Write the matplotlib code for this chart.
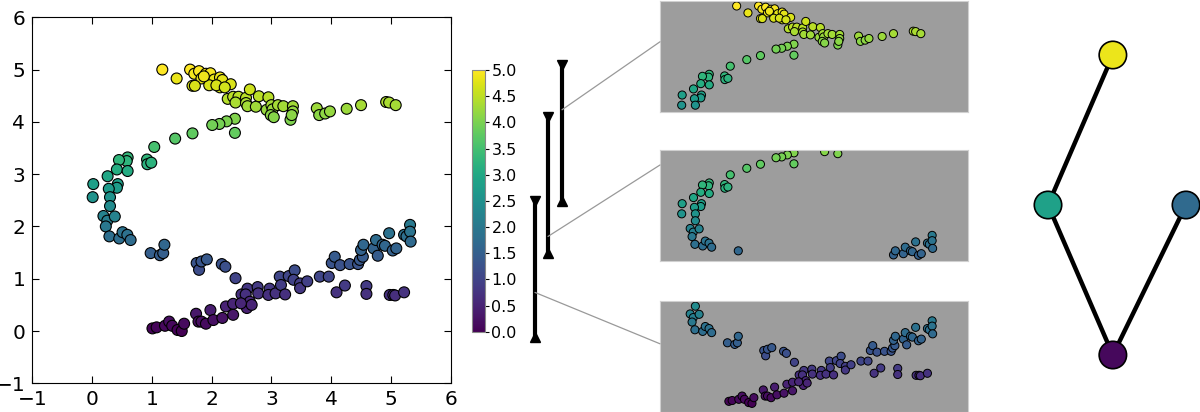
import matplotlib
matplotlib.use('Agg')
import matplotlib.pyplot as plt
from matplotlib.patches import ConnectionPatch
import numpy as np

# points (x, y); colour is the y value
pts_x = [1.175, 1.415, 1.64, 1.71, 1.79, 1.83, 1.68, 1.72, 1.905, 1.98, 2.045, 1.96, 2.14, 2.14, 2.18, 2.32, 1.87, 2.08, 2.22,
	2.27, 2.36, 2.45, 2.40, 2.575, 2.575, 2.64, 2.60, 2.74, 2.79, 2.95, 2.92, 3.0, 3.02, 2.99, 3.04, 3.11, 3.2, 3.36, 3.36, 3.32, 3.34,
	3.76, 3.80, 3.90, 3.98, 4.26, 4.50, 4.92, 4.97, 5.08,
	2.39, 2.25, 2.13, 2.01, 2.39, 1.68, 1.39, 1.04, 0.92, 0.925, 0.99, 0.595, 0.58, 0.45, 0.415, 0.595, 0.26, 0.43, 0.415, 0.02, 0.01,
	0.28, 0.30, 0.30,
	0.19, 0.255, 0.23, 0.38, 0.29, 0.455, 0.51, 0.59, 0.645, 0.98, 1.135, 1.19, 1.21,
	1.75, 1.79, 1.83, 1.92, 2.17, 2.23, 2.40, 2.50, 2.60, 2.57, 2.64, 2.59, 2.67, 2.77, 2.78, 2.97, 2.95, 3.07, 3.14, 3.16, 3.23,
	3.29, 3.39, 3.37, 3.48, 3.48, 3.60, 3.81, 3.96, 4.01, 4.06, 4.09, 4.15, 4.23, 4.31, 4.45, 4.48, 4.53, 4.50, 4.54, 4.59, 4.59,
	4.71, 4.75, 4.78, 4.86, 4.90, 4.97, 5.03, 5.09, 4.98, 5.04, 5.07, 5.22, 5.22, 5.26, 5.32, 5.32, 5.33,
	1.01, 1.08, 1.22, 1.29, 1.34, 1.43, 1.50, 1.54, 1.74, 1.78, 1.83, 1.905, 1.98, 2.03, 2.18, 2.24, 2.36, 2.36, 2.49]
pts_y = [5.0, 4.83, 5.0, 4.92, 4.97, 4.83, 4.69, 4.69, 4.92, 4.93, 4.81, 4.70, 4.85, 4.66, 4.80, 4.72, 4.87, 4.70, 4.66,
	4.44, 4.48, 4.48, 4.37, 4.46, 4.36, 4.62, 4.30, 4.29, 4.49, 4.47, 4.23, 4.32, 4.24, 4.13, 4.09, 4.32, 4.30, 4.30, 4.20, 4.04, 4.13,
	4.26, 4.13, 4.16, 4.20, 4.25, 4.32, 4.38, 4.37, 4.32,
	4.06, 4.01, 3.96, 3.94, 3.79, 3.78, 3.68, 3.52, 3.28, 3.19, 3.22, 3.32, 3.25, 3.27, 3.09, 3.06, 2.96, 2.81, 2.74, 2.81, 2.56,
	2.72, 2.56, 2.39,
	2.20, 2.11, 2.0, 2.19, 1.81, 1.77, 1.89, 1.84, 1.74, 1.49, 1.45, 1.49, 1.65,
	1.30, 1.17, 1.33, 1.37, 1.28, 1.23, 1.01, 0.70, 0.81, 0.70, 0.56, 0.44, 0.50, 0.84, 0.72, 0.81, 0.69, 0.72, 1.04, 0.88, 0.70,
	1.05, 1.16, 0.98, 0.91, 0.82, 0.95, 1.04, 1.04, 1.30, 1.42, 0.74, 1.26, 0.87, 1.28, 1.28, 1.36, 1.42, 1.55, 1.65, 0.86, 0.71,
	1.58, 1.74, 1.44, 1.65, 1.63, 1.87, 1.54, 1.58, 0.69, 0.69, 0.68, 0.74, 1.84, 1.81, 2.03, 1.90, 1.71,
	0.05, 0.07, 0.10, 0.18, 0.10, 0.02, 0.0, 0.14, 0.33, 0.18, 0.18, 0.14, 0.40, 0.21, 0.25, 0.47, 0.52, 0.31, 0.53]

# cover intervals on the y filter (bottom, middle, top)
intervals = [(-0.1, 2.5), (1.5, 4.1), (2.5, 5.1)]
link_start = [0.75, 1.82, 4.24]      # where the guide line leaves each bar
link_end = [0.61, 0.865, 0.63]       # where it meets each panel (axes fraction)

# mapper graph
node_values = [4.85, 2.85, 1.7, 0.1]
node_x = [0.47, 0.0, 1.0, 0.47]
node_level = [2, 1, 1, 0]
edges = [(0, 1), (1, 3), (2, 3)]

cmap = plt.get_cmap('viridis')
vmin, vmax = 0.0, 5.0
W, H = 1200, 412

x = np.array(pts_x)
y = np.array(pts_y)

fig = plt.figure(figsize=(12, 4.12), dpi=100)

# main scatter
ax = fig.add_axes([32.3 / W, 1 - 383.3 / H, 418.4 / W, 366.0 / H])
sc = ax.scatter(x, y, c=y, cmap=cmap, vmin=vmin, vmax=vmax, s=62, edgecolors='black', linewidths=0.8, zorder=3)
ax.set_xlim(-1, 6)
ax.set_ylim(-1, 6)
ax.set_xticks(range(-1, 7))
ax.set_yticks(range(-1, 7))
ax.tick_params(direction='in', top=True, right=True, labelsize=14.5, length=5, pad=5)

# colorbar
cax = fig.add_axes([472 / W, 1 - 331.7 / H, 12.5 / W, 261.7 / H])
cb = fig.colorbar(sc, cax=cax, ticks=np.arange(0, 5.01, 0.5))
cb.ax.set_yticklabels([f'{t:.1f}' for t in np.arange(0, 5.01, 0.5)])
cb.ax.tick_params(labelsize=11.5, length=3, direction='out', pad=2)
cb.outline.set_edgecolor('#888888')

# interval bars, same vertical scale as the colorbar
bax = fig.add_axes([520 / W, 1 - 331.7 / H, 60 / W, 261.7 / H])
bax.set_xlim(0, 3)
bax.set_ylim(vmin, vmax)
bax.axis('off')
bar_x = [0.75, 1.4, 2.1]
for bx, (lo, hi) in zip(bar_x, intervals):
	bax.plot([bx, bx], [lo, hi], color='black', lw=3, solid_capstyle='butt', clip_on=False, zorder=5)
	bax.plot([bx], [hi], marker='v', color='black', ms=7, clip_on=False, zorder=5)
	bax.plot([bx], [lo], marker='^', color='black', ms=7, clip_on=False, zorder=5)

# zoomed panels, one per interval
panel_bottoms = [1 - 411.5 / H, 1 - 261 / H, 1 - 111.7 / H]
for i, (lo, hi) in enumerate(intervals):
	pax = fig.add_axes([660 / W, panel_bottoms[i], 308 / W, 111 / H])
	pax.set_facecolor('#9d9d9d')
	m = (y >= lo) & (y <= hi)
	pax.scatter(x[m], y[m], c=y[m], cmap=cmap, vmin=vmin, vmax=vmax, s=34, edgecolors='black', linewidths=0.7)
	pax.set_xlim(-0.45, 6.08)
	pax.set_ylim(lo - 0.1, hi + 0.03)
	pax.set_xticks([])
	pax.set_yticks([])
	for sp in pax.spines.values():
		sp.set_edgecolor('#d0d0d0')
		sp.set_linewidth(0.8)
	con = ConnectionPatch(xyA=(bar_x[i], link_start[i]), coordsA=bax.transData,
		xyB=(0, link_end[i]), coordsB=pax.transAxes, color='#999999', lw=0.9, zorder=1)
	fig.add_artist(con)

# graph
gax = fig.add_axes([1048 / W, 1 - 355 / H, 138 / W, 300 / H])
gax.set_xlim(0, 1)
gax.set_ylim(0, 2)
gax.axis('off')
for a, b in edges:
	gax.plot([node_x[a], node_x[b]], [node_level[a], node_level[b]], color='black', lw=3.2, clip_on=False, zorder=1)
gax.scatter(node_x, node_level, c=node_values, cmap=cmap, vmin=vmin, vmax=vmax, s=390,
	edgecolors='black', linewidths=1.2, clip_on=False, zorder=2)

fig.savefig('out.png', dpi=100)
